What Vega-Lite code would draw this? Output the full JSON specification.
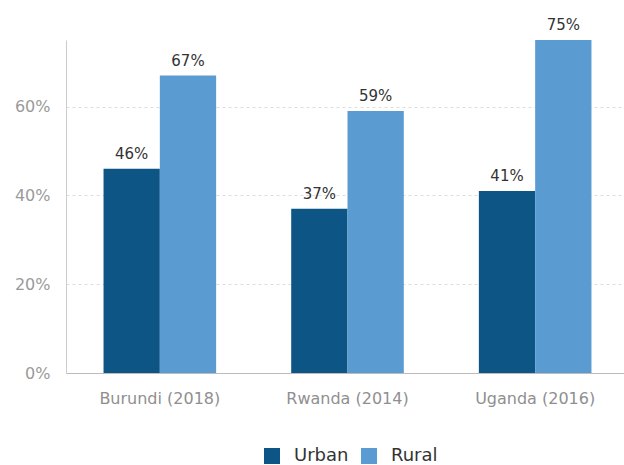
{
  "$schema": "https://vega.github.io/schema/vega-lite/v6.json",
  "autosize": "none",
  "width": 563,
  "height": 333,
  "padding": {"left": 66, "top": 40, "right": 0, "bottom": 92},
  "background": "white",
  "config": {
    "view": {"stroke": null},
    "font": "DejaVu Sans"
  },
  "data": {
    "values": [
      {"country": "Burundi (2018)", "area": "Urban", "value": 46},
      {"country": "Burundi (2018)", "area": "Rural", "value": 67},
      {"country": "Rwanda (2014)", "area": "Urban", "value": 37},
      {"country": "Rwanda (2014)", "area": "Rural", "value": 59},
      {"country": "Uganda (2016)", "area": "Urban", "value": 41},
      {"country": "Uganda (2016)", "area": "Rural", "value": 75}
    ]
  },
  "transform": [{"calculate": "datum.value + '%'", "as": "label"}],
  "encoding": {
    "x": {
      "field": "country", "type": "nominal", "sort": null,
      "scale": {"paddingInner": 0.4, "paddingOuter": 0.2},
      "axis": {"title": null, "labelAngle": 0, "ticks": false, "labelColor": "#8f8f8f", "labelFontSize": 16, "labelPadding": 25, "labelBaseline": "middle", "domainColor": "#bbbbbb", "grid": false}
    },
    "xOffset": {"field": "area", "type": "nominal", "sort": ["Urban", "Rural"], "scale": {"paddingInner": 0, "paddingOuter": 0}},
    "y": {
      "field": "value", "type": "quantitative",
      "scale": {"domain": [0, 75], "nice": false},
      "axis": {"title": null, "values": [0, 20, 40, 60], "labelExpr": "datum.value + '%'", "ticks": false, "labelColor": "#9a9a9a", "labelFontSize": 16, "labelPadding": 16, "domainColor": "#cccccc", "gridColor": "#dddddd", "gridDash": [3, 3]}
    }
  },
  "layer": [
    {
      "mark": {"type": "bar"},
      "encoding": {
        "color": {
          "field": "area", "type": "nominal", "sort": ["Urban", "Rural"],
          "scale": {"domain": ["Urban", "Rural"], "range": ["#0d5584", "#5a9bd1"]},
          "legend": {"title": null, "orient": "none", "direction": "horizontal", "legendX": 197, "legendY": 407, "symbolType": "square", "symbolSize": 256, "symbolStrokeWidth": 0, "labelFontSize": 18, "labelColor": "#333333", "columnPadding": 11, "labelOffset": 13}
        }
      }
    },
    {
      "mark": {"type": "text", "baseline": "bottom", "dy": -7, "fontSize": 15, "color": "#333333"},
      "encoding": {
        "text": {"field": "label", "type": "nominal"},
        "detail": {"field": "area"}
      }
    }
  ]
}
